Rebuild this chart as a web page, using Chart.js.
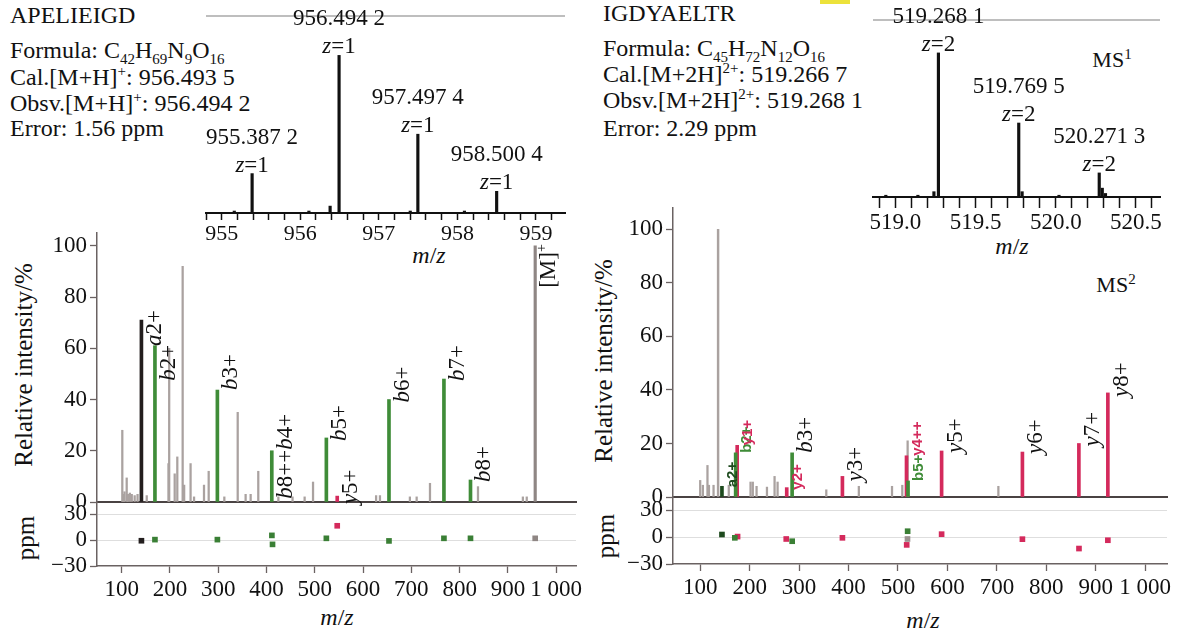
<!DOCTYPE html>
<html><head><meta charset="utf-8">
<script src="https://cdn.jsdelivr.net/npm/chart.js@4.4.0/dist/chart.umd.min.js"></script>
<style>
html,body{margin:0;padding:0;background:#fff;}
body{width:1178px;height:632px;position:relative;overflow:hidden;font-family:"Liberation Serif","Times New Roman",serif;color:#111;}
canvas{position:absolute;}
.t{position:absolute;white-space:nowrap;font-size:24px;line-height:24px;}
.c{position:absolute;white-space:nowrap;transform:translate(-50%,-50%);font-size:24px;line-height:26px;}
.rot{position:absolute;white-space:nowrap;transform:translate(-50%,-50%) rotate(-90deg);font-size:25px;line-height:26px;}
.t sub,.t sup,.c sup{font-size:15px;line-height:0;}
i{font-style:italic;}
</style></head><body>

<div class="t" style="left:10px;top:3px">APELIEIGD</div>
<div class="t" style="left:10px;top:38px">Formula: C<sub>42</sub>H<sub>69</sub>N<sub>9</sub>O<sub>16</sub></div>
<div class="t" style="left:10px;top:65px">Cal.[M+H]<sup>+</sup>: 956.493 5</div>
<div class="t" style="left:10px;top:91px">Obsv.[M+H]<sup>+</sup>: 956.494 2</div>
<div class="t" style="left:10px;top:116px">Error: 1.56 ppm</div>

<div class="t" style="left:603px;top:1px">IGDYAELTR</div>
<div class="t" style="left:603px;top:36px">Formula: C<sub>45</sub>H<sub>72</sub>N<sub>12</sub>O<sub>16</sub></div>
<div class="t" style="left:603px;top:62px">Cal.[M+2H]<sup>2+</sup>: 519.266 7</div>
<div class="t" style="left:603px;top:88px">Obsv.[M+2H]<sup>2+</sup>: 519.268 1</div>
<div class="t" style="left:603px;top:116px">Error: 2.29 ppm</div>

<div style="position:absolute;left:820px;top:0;width:30px;height:4px;background:#ece23a"></div>

<div class="rot" style="left:24px;top:365px">Relative intensity/%</div>
<div class="rot" style="left:26px;top:538px">ppm</div>
<div class="rot" style="left:604px;top:361px">Relative intensity/%</div>
<div class="rot" style="left:606px;top:536px">ppm</div>

<div class="c" style="left:337px;top:617px"><i>m</i>/<i>z</i></div>
<div class="c" style="left:923px;top:620px"><i>m</i>/<i>z</i></div>
<div class="c" style="left:429px;top:255px"><i>m</i>/<i>z</i></div>
<div class="c" style="left:1012px;top:246px"><i>m</i>/<i>z</i></div>
<div class="c" style="left:1112px;top:60px;font-size:22px">MS<sup>1</sup></div>
<div class="c" style="left:1116px;top:285px;font-size:22px">MS<sup>2</sup></div>

<script>
// ================= DATA =================
// Left MS1 inset (APELIEIGD)
const leftMs1Mz  = [955.16, 955.387, 956.11, 956.38, 956.494, 957.40, 957.497, 958.09, 958.500];
const leftMs1Int = [1, 20, 1, 3.5, 80, 1, 40, 1, 11];
const leftMs1LabelMz   = [955.387, 956.494, 957.497, 958.500];
const leftMs1LabelText = ['955.387 2', '956.494 2', '957.497 4', '958.500 4'];
const leftMs1Charge    = ['z=1', 'z=1', 'z=1', 'z=1'];
const leftMs1TickValues = [955, 956, 957, 958, 959];
const leftMs1TickLabels = ['955', '956', '957', '958', '959'];

// Right MS1 inset (IGDYAELTR)
const rightMs1Mz  = [518.94, 519.14, 519.24, 519.268, 519.769, 519.79, 520.02, 520.271, 520.29, 520.31];
const rightMs1Int = [1, 1, 3, 81.4, 41.8, 3, 1, 13.6, 5, 2];
const rightMs1LabelMz   = [519.268, 519.769, 520.271];
const rightMs1LabelText = ['519.268 1', '519.769 5', '520.271 3'];
const rightMs1Charge    = ['z=2', 'z=2', 'z=2'];
const rightMs1TickValues = [519.0, 519.5, 520.0, 520.5];
const rightMs1TickLabels = ['519.0', '519.5', '520.0', '520.5'];

// Left MS2 (APELIEIGD)
const leftGrayMz  = [101.4, 104, 106, 110.5, 113, 117, 121, 127, 133, 152, 197, 198.5, 209.9, 215.3, 226.4, 229.5, 242.8, 250, 270.6, 280.3, 312.7, 340.4, 356.8, 367.2, 383, 424.6, 454, 479, 496.4, 627, 635, 697, 711, 738.6, 838, 931, 939];
const leftGrayInt = [28, 3, 4, 9.4, 3, 3.5, 3, 2.5, 3, 2.5, 15, 60, 11, 17.6, 92, 6.6, 15, 2, 6.6, 12, 2, 35, 3, 3, 12, 2, 2, 2, 7.8, 2.5, 2.5, 2, 2, 7.3, 6, 2, 2];
const leftPrecMz  = [956.5];
const leftPrecInt = [100];
const leftBlackMz  = [141];
const leftBlackInt = [71];
const leftGreenMz  = [169, 298.3, 411, 524, 653.7, 767.5, 822.5];
const leftGreenInt = [61, 43.7, 20, 25, 40, 48, 8.6];
const leftRedMz  = [546.5];
const leftRedInt = [2.3];
const leftLabelText = ['a2+', 'b2+', 'b3+', 'b8++b4+', 'b5+', 'y5+', 'b6+', 'b7+', 'b8+', '[M]^+'];
const leftLabelMz   = [141, 169, 298.3, 411, 524, 546.5, 653.7, 767.5, 822.5, 956.5];

// Left ppm errors
const leftPpmBlackMz = [141];          const leftPpmBlack = [-0.8];
const leftPpmGreenMz = [169, 298.3, 411.2, 412.5, 524, 653.7, 767.5, 822.5];
const leftPpmGreen   = [0.5, 0.5, 5.4, -5, 2, -1, 2, 2];
const leftPpmRedMz   = [546.5];        const leftPpmRed = [16.5];
const leftPpmGrayMz  = [956.5];        const leftPpmGray = [2];

// Right MS2 (IGDYAELTR)
const rightGrayMz  = [100, 105.4, 114.7, 117.7, 127, 157.8, 201.8, 206.4, 214, 235, 250.4, 256.5, 355, 420.8, 487.9, 508.7, 519.5, 703];
const rightGrayInt = [6.2, 4.4, 11.8, 4.4, 4.4, 4.4, 5.6, 5.6, 4, 3.7, 7.7, 5.6, 2.7, 4, 4, 4.4, 21, 4];
const rightPrecMz  = [136.2];
const rightPrecInt = [100];
const rightDkGreenMz  = [144];
const rightDkGreenInt = [4];
const rightGreenMz  = [171.7, 285.9, 520.3];
const rightGreenInt = [16.5, 16.5, 6];
const rightRedMz  = [174.8, 275, 387.6, 517.2, 588.2, 751.6, 865.8, 924.4];
const rightRedInt = [19.3, 3.5, 7.7, 15.4, 17.2, 16.8, 20, 38.9];
const rightLabelText = ['a2+', 'b2+', 'y1+', 'y2+', 'b3+', 'y3+', 'b5+', 'y4++', 'y5+', 'y6+', 'y7+', 'y8+'];
const rightLabelMz   = [144, 171.7, 174.8, 275, 285.9, 387.6, 520.3, 517.2, 588.2, 751.6, 865.8, 924.4];

// Right ppm errors
const rightPpmDkGreenMz = [144];   const rightPpmDkGreen = [3];
const rightPpmGreenMz = [170, 286, 519.5];   const rightPpmGreen = [-0.7, -4.5, 6.7];
const rightPpmGrayMz  = [519.2];   const rightPpmGray = [-2];
const rightPpmRedMz   = [175.6, 274, 387.6, 517.6, 588.2, 751.6, 866, 924.4];
const rightPpmRed     = [0.7, -2, -0.7, -8.6, 3.4, -2.2, -12.7, -3.4];

// Axis ticks
const intensityTicks = [0, 20, 40, 60, 80, 100];
const mzTickValues = [100, 200, 300, 400, 500, 600, 700, 800, 900, 1000];
const mzTickLabels = ['100', '200', '300', '400', '500', '600', '700', '800', '900', '1 000'];
const ppmTickValues = [-30, 0, 30];
const ppmTickLabels = ['\u221230', '0', '30'];

// ================= LAYOUT / STYLE =================
const C = {gray:'#aaa2a0', prec:'#8f8684', black:'#231e1e', green:'#3f8c38', dgreen:'#1d4a1d',
           red:'#d42a5c', axis:'#6a6262', base:'#4a4343', grid:'#dedede'};
const SERIF = '"Liberation Serif", "Times New Roman", serif';
const SANS = '"Liberation Sans", Arial, sans-serif';
Chart.defaults.font.family = SERIF;
Chart.defaults.color = '#111';
Chart.defaults.animation = false;
Chart.defaults.plugins.legend.display = false;
Chart.defaults.plugins.tooltip.enabled = false;

const leftLabelShift  = [26, 35, 0, 48, 3, 8, 3, 2, 2, 42];
const leftLabelStyle  = ['serif','serif','serif','serif','serif','serif','serif','serif','serif','serif'];
const rightLabelShift = [1, 0, 0, 2, 0, 5, 0, 0, 2, 2, 3, 4];
const rightLabelStyle = ['sans:' + C.dgreen, 'sans:' + C.green, 'sans:' + C.red, 'sans:' + C.red, 'serif', 'serif',
                         'sans:' + C.green, 'sans:' + C.red, 'serif', 'serif', 'serif', 'serif'];

function zip(xs, ys) { return xs.map((x, i) => ({x: x, y: ys[i]})); }
function noPad(s) { s.paddingTop = 0; s.paddingBottom = 0; s.paddingLeft = 0; s.paddingRight = 0; }
function makeCanvas(left, top, w, h) {
  const c = document.createElement('canvas');
  c.width = w; c.height = h;
  c.style.left = left + 'px'; c.style.top = top + 'px';
  c.style.width = w + 'px'; c.style.height = h + 'px';
  document.body.appendChild(c);
  return c;
}
function parseRuns(text, sans) {
  const runs = []; let sup = false;
  for (const ch of text) {
    if (ch === '^') { sup = true; continue; }
    const it = !sans && /[a-z]/.test(ch);
    const last = runs[runs.length - 1];
    if (last && last.it === it && last.sup === sup) last.t += ch;
    else runs.push({t: ch, it: it, sup: sup});
  }
  return runs;
}
function fontFor(r, size, sans) {
  const s = r.sup ? Math.round(size * 0.6) : size;
  return (r.it ? 'italic ' : '') + (sans ? 'bold ' : '') + s + 'px ' + (sans ? SANS : SERIF);
}
function drawRuns(ctx, text, x, y, size, sans, color, align) {
  const runs = parseRuns(text, sans);
  ctx.fillStyle = color; ctx.textBaseline = 'alphabetic'; ctx.textAlign = 'left';
  let w = 0;
  runs.forEach(r => { ctx.font = fontFor(r, size, sans); r.w = ctx.measureText(r.t).width; w += r.w; });
  let cx = align === 'center' ? x - w / 2 : x;
  runs.forEach(r => { ctx.font = fontFor(r, size, sans); ctx.fillText(r.t, cx, y - (r.sup ? size * 0.4 : 0)); cx += r.w; });
}
function findInt(series, mz) {
  for (const s of series) {
    const i = s.mz.findIndex(v => Math.abs(v - mz) < 1e-6);
    if (i >= 0) return s.int[i];
  }
  return 0;
}

function peakLabelPlugin(series, texts, mzs, shifts, styles) {
  return {
    id: 'peakLabels',
    afterDatasetsDraw(chart) {
      const ctx = chart.ctx, xs = chart.scales.x, ys = chart.scales.y;
      texts.forEach((t, i) => {
        const px = xs.getPixelForValue(mzs[i]);
        const py = ys.getPixelForValue(findInt(series, mzs[i])) + shifts[i];
        const st = styles[i];
        const sans = st.startsWith('sans');
        const color = sans ? st.split(':')[1] : '#111';
        const size = sans ? 15 : 23;
        ctx.save();
        ctx.translate(px, py);
        ctx.rotate(-Math.PI / 2);
        drawRuns(ctx, t, 0, sans ? 15 : 20, size, sans, color, 'left');
        ctx.restore();
      });
    }
  };
}

function mainChart(canvas, o) {
  return new Chart(canvas, {
    type: 'bar',
    data: {datasets: o.series.map(s => ({data: zip(s.mz, s.int), backgroundColor: s.color, barThickness: s.w,
                                         grouped: false, borderWidth: 0, order: s.order}))},
    options: {
      responsive: false, devicePixelRatio: 1,
      layout: {padding: o.pad},
      scales: {
        x: {type: 'linear', min: o.xmin, max: o.xmax, offset: false,
            grid: {offset: false, drawOnChartArea: false, drawTicks: false},
            ticks: {display: false}, border: {color: C.base, width: 2},
            afterFit(s) { s.height = 0; noPad(s); }},
        y: {type: 'linear', min: 0, max: o.ymax,
            grid: {drawOnChartArea: false, tickLength: 7, tickColor: C.axis, tickWidth: 1.3},
            border: {color: C.axis, width: 1.5},
            ticks: {font: {size: 23}, padding: 3, color: '#111', autoSkip: false},
            afterBuildTicks(s) { s.ticks = intensityTicks.map(v => ({value: v})); },
            afterFit(s) { s.width = o.yw; noPad(s); }}
      }
    },
    plugins: [peakLabelPlugin(o.series, o.labels.text, o.labels.mz, o.labels.shift, o.labels.style)]
  });
}

function ppmChart(canvas, o) {
  return new Chart(canvas, {
    type: 'scatter',
    data: {datasets: o.series.map(s => ({data: zip(s.mz, s.ppm), backgroundColor: s.color, borderWidth: 0,
                                         pointStyle: 'rect', pointRadius: 4}))},
    options: {
      responsive: false, devicePixelRatio: 1,
      layout: {padding: o.pad},
      scales: {
        x: {type: 'linear', min: o.xmin, max: o.xmax,
            grid: {drawOnChartArea: false, tickLength: 7, tickColor: C.axis, tickWidth: 1.3},
            border: {color: C.axis, width: 1.5},
            ticks: {font: {size: 23}, padding: 3, maxRotation: 0, autoSkip: false, color: '#111',
                    callback: (v, i) => mzTickLabels[i]},
            afterBuildTicks(s) { s.ticks = mzTickValues.map(v => ({value: v})); },
            afterFit(s) { s.height = o.xh; noPad(s); }},
        y: {type: 'linear', min: -30, max: o.ymax,
            grid: {color: c => (c.tick && (c.tick.value === 30 || c.tick.value === 0)) ? C.grid : 'rgba(0,0,0,0)',
                   tickColor: C.axis, tickLength: 7, tickWidth: 1.3, lineWidth: 1},
            border: {color: C.axis, width: 1.5},
            ticks: {font: {size: 23}, padding: 3, color: '#111', autoSkip: false, callback: (v, i) => ppmTickLabels[i]},
            afterBuildTicks(s) { s.ticks = ppmTickValues.map(v => ({value: v})); },
            afterFit(s) { s.width = o.yw; noPad(s); }}
      }
    }
  });
}

function insetChart(canvas, o) {
  const labelPlugin = {
    id: 'ms1Labels',
    afterDatasetsDraw(chart) {
      const ctx = chart.ctx, xs = chart.scales.x, ys = chart.scales.y, a = chart.chartArea;
      ctx.save();
      ctx.strokeStyle = '#a8a8a8'; ctx.lineWidth = 1.5;
      ctx.beginPath(); ctx.moveTo(a.left, a.top); ctx.lineTo(a.right, a.top); ctx.stroke();
      o.labelMz.forEach((mz, i) => {
        const px = xs.getPixelForValue(mz);
        const py = ys.getPixelForValue(findInt([{mz: o.mz, int: o.int}], mz));
        drawRuns(ctx, o.labelText[i], px, py - 38 + 8, 23, false, '#111', 'center');
        drawRuns(ctx, o.charge[i], px, py - 10 + 8, 23, false, '#111', 'center');
      });
      ctx.restore();
    }
  };
  return new Chart(canvas, {
    type: 'bar',
    data: {datasets: [{data: zip(o.mz, o.int), backgroundColor: '#111', barThickness: 2.5, grouped: false, borderWidth: 0}]},
    options: {
      responsive: false, devicePixelRatio: 1,
      layout: {padding: o.pad},
      scales: {
        x: {type: 'linear', min: o.xmin, max: o.xmax, offset: false,
            grid: {offset: false, drawOnChartArea: false, tickLength: o.tl, tickColor: '#111', tickWidth: 1.5},
            border: {color: '#111', width: 2},
            ticks: {font: {size: o.fs}, padding: 1, maxRotation: 0, autoSkip: false, color: '#111',
                    callback: (v) => {
                      const k = o.tickValues.findIndex(t => Math.abs(t - v) < 1e-6);
                      return k >= 0 ? o.tickLabels[k] : '';
                    }},
            afterBuildTicks(s) {
              const arr = [];
              for (let v = o.minorStart; v <= o.minorEnd + 1e-9; v += o.minorStep) arr.push({value: Math.round(v * 1000) / 1000});
              s.ticks = arr;
            },
            afterFit(s) { s.height = o.xh; noPad(s); }},
        y: {display: false, min: 0, max: 100}
      }
    },
    plugins: [labelPlugin]
  });
}

// ---------- LEFT ----------
const leftSeries = [
  {mz: leftGrayMz, int: leftGrayInt, color: C.gray, w: 1.6, order: 4},
  {mz: leftPrecMz, int: leftPrecInt, color: C.prec, w: 2.5, order: 3},
  {mz: leftBlackMz, int: leftBlackInt, color: C.black, w: 3, order: 2},
  {mz: leftGreenMz, int: leftGreenInt, color: C.green, w: 3, order: 1},
  {mz: leftRedMz, int: leftRedInt, color: C.red, w: 3, order: 0}
];
mainChart(makeCanvas(0, 226, 590, 281), {
  series: leftSeries, xmin: 49, xmax: 1041, ymax: 105, yw: 97,
  pad: {top: 7, right: 14, bottom: 5, left: 0},
  labels: {text: leftLabelText, mz: leftLabelMz, shift: leftLabelShift, style: leftLabelStyle}
});
ppmChart(makeCanvas(0, 496, 590, 136), {
  series: [
    {mz: leftPpmGrayMz, ppm: leftPpmGray, color: '#8f8684'},
    {mz: leftPpmBlackMz, ppm: leftPpmBlack, color: C.black},
    {mz: leftPpmGreenMz, ppm: leftPpmGreen, color: '#3a7f35'},
    {mz: leftPpmRedMz, ppm: leftPpmRed, color: C.red}
  ],
  xmin: 49, xmax: 1041, ymax: 44, yw: 97, xh: 66,
  pad: {top: 6, right: 14, bottom: 0, left: 0}
});
insetChart(makeCanvas(150, 0, 430, 262), {
  mz: leftMs1Mz, int: leftMs1Int, labelMz: leftMs1LabelMz, labelText: leftMs1LabelText, charge: leftMs1Charge,
  tickValues: leftMs1TickValues, tickLabels: leftMs1TickLabels,
  xmin: 954.8, xmax: 959.37, minorStart: 954.8, minorEnd: 959.2, minorStep: 0.2,
  tl: 7, fs: 22, xh: 49, pad: {top: 16, right: 15, bottom: 0, left: 56}
});

// ---------- RIGHT ----------
const rightSeries = [
  {mz: rightGrayMz, int: rightGrayInt, color: C.gray, w: 1.6, order: 4},
  {mz: rightPrecMz, int: rightPrecInt, color: C.gray, w: 1.8, order: 3},
  {mz: rightDkGreenMz, int: rightDkGreenInt, color: C.dgreen, w: 3, order: 2},
  {mz: rightGreenMz, int: rightGreenInt, color: C.green, w: 3, order: 0},
  {mz: rightRedMz, int: rightRedInt, color: C.red, w: 3, order: 1}
];
mainChart(makeCanvas(590, 200, 588, 302), {
  series: rightSeries, xmin: 45, xmax: 1044, ymax: 108, yw: 83,
  pad: {top: 8, right: 11, bottom: 5, left: 0},
  labels: {text: rightLabelText, mz: rightLabelMz, shift: rightLabelShift, style: rightLabelStyle}
});
ppmChart(makeCanvas(590, 491, 588, 141), {
  series: [
    {mz: rightPpmGrayMz, ppm: rightPpmGray, color: '#9a9290'},
    {mz: rightPpmDkGreenMz, ppm: rightPpmDkGreen, color: C.dgreen},
    {mz: rightPpmGreenMz, ppm: rightPpmGreen, color: '#3a7f35'},
    {mz: rightPpmRedMz, ppm: rightPpmRed, color: C.red}
  ],
  xmin: 45, xmax: 1044, ymax: 45, yw: 83, xh: 68,
  pad: {top: 6, right: 11, bottom: 0, left: 0}
});
insetChart(makeCanvas(820, 0, 358, 262), {
  mz: rightMs1Mz, int: rightMs1Int, labelMz: rightMs1LabelMz, labelText: rightMs1LabelText, charge: rightMs1Charge,
  tickValues: rightMs1TickValues, tickLabels: rightMs1TickLabels,
  xmin: 518.86, xmax: 520.65, minorStart: 518.9, minorEnd: 520.6, minorStep: 0.1,
  tl: 11, fs: 23, xh: 65, pad: {top: 20, right: 18, bottom: 0, left: 53}
});
</script>
</body></html>
